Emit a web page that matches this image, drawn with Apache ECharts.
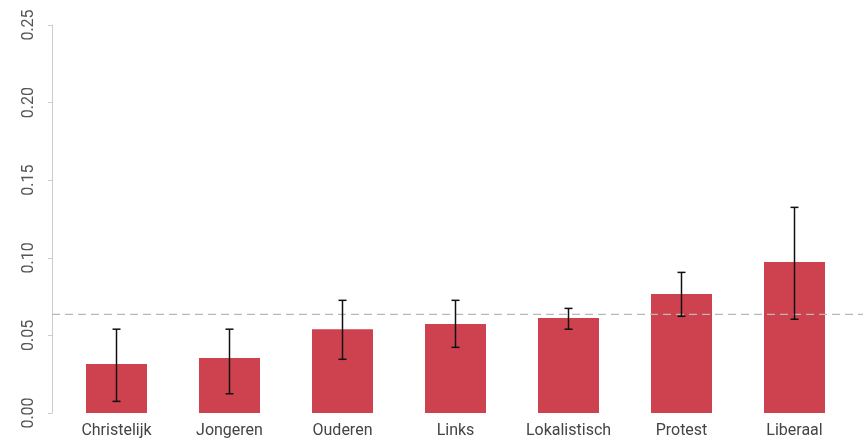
<!DOCTYPE html>
<html><head><meta charset="utf-8">
<script src="https://cdn.jsdelivr.net/npm/echarts@6/dist/echarts.min.js"></script>
<style>html,body{margin:0;padding:0;background:#fff}#c{width:863px;height:441px}</style>
</head><body><div id="c"></div>
<script>
var categories = ['Christelijk','Jongeren','Ouderen','Links','Lokalistisch','Protest','Liberaal'];
var values = [0.0316, 0.0354, 0.0540, 0.0573, 0.0612, 0.0767, 0.0973];
var errLow = [0.0075, 0.0124, 0.0346, 0.0423, 0.0540, 0.0623, 0.0604];
var errHigh = [0.0540, 0.0540, 0.0726, 0.0726, 0.0674, 0.0906, 0.1325];
var refValue = 0.0636;
var yTicks = [0, 0.05, 0.10, 0.15, 0.20, 0.25];

var errData = categories.map(function(c,i){return [i, errLow[i], errHigh[i]];});
var chart = echarts.init(document.getElementById('c'), null, {renderer:'canvas'});
var font = 'Roboto, "DejaVu Sans", sans-serif';
chart.setOption({
  animation:false,
  grid:[
    {left:60, right:12, top:25, bottom:28},
    {left:52, right:0, top:25, bottom:28}
  ],
  xAxis:[
    {type:'category', gridIndex:0, data:categories, axisLine:{show:false}, axisTick:{show:false},
     axisLabel:{color:'#444', fontSize:16, fontFamily:font, margin:10}},
    {type:'value', gridIndex:1, min:0, max:1, show:false}
  ],
  yAxis:[
    {type:'value', gridIndex:0, min:yTicks[0], max:yTicks[yTicks.length-1], interval:0.05, offset:8,
     axisLine:{show:true, lineStyle:{color:'#cccccc', width:1}},
     axisTick:{show:true, length:4, lineStyle:{color:'#cccccc'}},
     splitLine:{show:false},
     axisLabel:{rotate:90, color:'#555', fontSize:16, fontFamily:font, margin:15,
       formatter:function(v){return v.toFixed(2);}}},
    {type:'value', gridIndex:1, min:yTicks[0], max:yTicks[yTicks.length-1], show:false}
  ],
  series:[
    {type:'bar', xAxisIndex:0, yAxisIndex:0, data:values, barWidth:61,
     itemStyle:{color:'#ce414e'}},
    {type:'line', xAxisIndex:1, yAxisIndex:1, data:[[0,refValue],[1,refValue]], symbol:'none',
     lineStyle:{color:'#b8b8b8', width:1.2, type:[8,5]}, z:5},
    {type:'custom', xAxisIndex:0, yAxisIndex:0, data:errData, z:10,
     renderItem:function(params, api){
       var x = api.value(0);
       var lo = api.coord([x, api.value(1)]);
       var hi = api.coord([x, api.value(2)]);
       var hw = 4;
       var st = {stroke:'#111', lineWidth:1.5};
       return {type:'group', children:[
         {type:'line', shape:{x1:lo[0], y1:lo[1], x2:hi[0], y2:hi[1]}, style:st},
         {type:'line', shape:{x1:lo[0]-hw, y1:lo[1], x2:lo[0]+hw, y2:lo[1]}, style:st},
         {type:'line', shape:{x1:hi[0]-hw, y1:hi[1], x2:hi[0]+hw, y2:hi[1]}, style:st}
       ]};
     }}
  ]
});
</script></body></html>
